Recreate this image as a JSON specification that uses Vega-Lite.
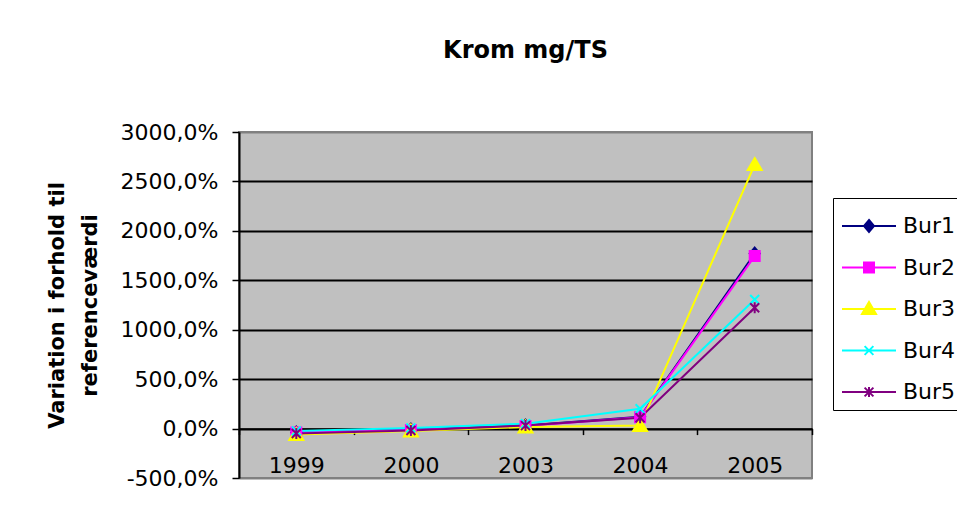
{
  "$schema": "https://vega.github.io/schema/vega-lite/v6.json",
  "autosize": "none",
  "width": 573,
  "height": 346,
  "padding": {"left": 239, "top": 132, "right": 145, "bottom": 33},
  "background": "white",
  "title": {"text": "Krom mg/TS", "font": "DejaVu Sans", "fontSize": 24, "fontWeight": "bold", "color": "black", "anchor": "middle", "baseline": "alphabetic", "offset": 39},
  "config": {
    "view": {"fill": "#C0C0C0", "stroke": "#808080", "strokeWidth": 2},
    "axis": {"domainColor": "black", "tickColor": "black", "labelColor": "black", "titleColor": "black", "labelFont": "DejaVu Sans", "titleFont": "DejaVu Sans"}
  },
  "data": {"values": [
    {"year": "1999", "series": "Bur1", "value": -40},
    {"year": "2000", "series": "Bur1", "value": -10},
    {"year": "2003", "series": "Bur1", "value": 30},
    {"year": "2004", "series": "Bur1", "value": 120},
    {"year": "2005", "series": "Bur1", "value": 1770},
    {"year": "1999", "series": "Bur2", "value": -40},
    {"year": "2000", "series": "Bur2", "value": -15},
    {"year": "2003", "series": "Bur2", "value": 25},
    {"year": "2004", "series": "Bur2", "value": 115},
    {"year": "2005", "series": "Bur2", "value": 1745},
    {"year": "1999", "series": "Bur3", "value": -60},
    {"year": "2000", "series": "Bur3", "value": -25},
    {"year": "2003", "series": "Bur3", "value": 15},
    {"year": "2004", "series": "Bur3", "value": 30},
    {"year": "2005", "series": "Bur3", "value": 2670},
    {"year": "1999", "series": "Bur4", "value": -25},
    {"year": "2000", "series": "Bur4", "value": 5},
    {"year": "2003", "series": "Bur4", "value": 50},
    {"year": "2004", "series": "Bur4", "value": 200},
    {"year": "2005", "series": "Bur4", "value": 1305},
    {"year": "1999", "series": "Bur5", "value": -50},
    {"year": "2000", "series": "Bur5", "value": -20},
    {"year": "2003", "series": "Bur5", "value": 30},
    {"year": "2004", "series": "Bur5", "value": 110},
    {"year": "2005", "series": "Bur5", "value": 1222}
  ]},
  "encoding": {
    "x": {"field": "year", "type": "ordinal",
      "scale": {"type": "band", "paddingInner": 0, "paddingOuter": 0},
      "axis": {"title": null, "orient": "bottom", "offset": -49.4, "labelAngle": 0, "labelFontSize": 22, "labelPadding": 21, "tickBand": "extent", "tickSize": 6, "tickWidth": 1.5, "domainWidth": 1.5, "grid": false}},
    "y": {"field": "value", "type": "quantitative",
      "scale": {"domain": [-500, 3000], "nice": false, "zero": false},
      "axis": {"title": ["Variation i forhold til", "referenceværdi"], "titleFontSize": 21, "titleFontWeight": "bold", "titleLineHeight": 33, "titlePadding": 20,
        "values": [-500, 0, 500, 1000, 1500, 2000, 2500, 3000],
        "labelExpr": "(datum.value < 0 ? '-' : '') + replace(format(abs(datum.value), '.1f'), '.', ',') + '%'",
        "labelFontSize": 22, "labelPadding": 14, "labelFlush": false, "tickSize": 7, "tickWidth": 1.5, "domainWidth": 2,
        "grid": true, "gridColor": {"condition": {"test": "datum.value == 3000 || datum.value == -500", "value": "#808080"}, "value": "black"}, "gridWidth": 2, "gridOpacity": 1}},
    "color": {"field": "series", "type": "nominal",
      "scale": {"domain": ["Bur1", "Bur2", "Bur3", "Bur4", "Bur5"], "range": ["#000080", "#FF00FF", "#FFFF00", "#00FFFF", "#800080"]},
      "legend": {"title": null, "orient": "none", "legendX": 594, "legendY": 66,
        "strokeColor": "black", "fillColor": "white", "padding": 7, "cornerRadius": 0,
        "labelFont": "DejaVu Sans", "labelFontSize": 22, "labelColor": "black", "labelOffset": 13, "symbolOffset": 8,
        "symbolSize": 1600, "symbolStrokeWidth": 2, "rowPadding": 9.5,
        "encode": {"symbols": {"update": {
          "shape": {"signal": "datum.value === 'Bur1' ? 'M-1.35,0H1.35M0,-0.3L0.25,0L0,0.3L-0.25,0Z' : datum.value === 'Bur2' ? 'M-1.35,0H1.35M-0.25,-0.25H0.25V0.25H-0.25Z' : datum.value === 'Bur3' ? 'M-1.35,0H1.35M0,-0.35L0.35,0.25L-0.35,0.25Z' : datum.value === 'Bur4' ? 'M-1.35,0H1.35M-0.22,-0.22L0.22,0.22M-0.22,0.22L0.22,-0.22' : 'M-1.35,0H1.35M-0.22,-0.22L0.22,0.22M-0.22,0.22L0.22,-0.22M0,-0.25V0.25'"},
          "size": {"value": 1600},
          "strokeWidth": {"value": 2},
          "fill": {"signal": "scale('color', datum.value)"},
          "stroke": {"signal": "scale('color', datum.value)"},
          "opacity": {"value": 1}
        }}}}
    }
  },
  "layer": [
    {"mark": {"type": "line", "strokeWidth": 2}},
    {"transform": [{"filter": "datum.series === 'Bur1'"}],
     "mark": {"type": "point", "filled": true, "size": 100, "strokeWidth": 2, "opacity": 1, "stroke": "#000080", "shape": "M0,-1.2L1,0L0,1.2L-1,0Z"}},
    {"transform": [{"filter": "datum.series === 'Bur2'"}],
     "mark": {"type": "point", "filled": true, "size": 100, "strokeWidth": 2, "opacity": 1, "stroke": "#FF00FF", "shape": "M-1,-1H1V1H-1Z"}},
    {"transform": [{"filter": "datum.series === 'Bur3'"}],
     "mark": {"type": "point", "filled": true, "size": 100, "strokeWidth": 2, "opacity": 1, "stroke": "#FFFF00", "shape": "M0,-1.3L1.4,1.1L-1.4,1.1Z"}},
    {"transform": [{"filter": "datum.series === 'Bur4'"}],
     "mark": {"type": "point", "filled": true, "size": 100, "strokeWidth": 2, "opacity": 1, "stroke": "#00FFFF", "shape": "M-0.9,-0.9L0.9,0.9M-0.9,0.9L0.9,-0.9"}},
    {"transform": [{"filter": "datum.series === 'Bur5'"}],
     "mark": {"type": "point", "filled": true, "size": 100, "strokeWidth": 2, "opacity": 1, "stroke": "#800080", "shape": "M-0.9,-0.9L0.9,0.9M-0.9,0.9L0.9,-0.9M0,-1.1V1.1"}}
  ]
}
